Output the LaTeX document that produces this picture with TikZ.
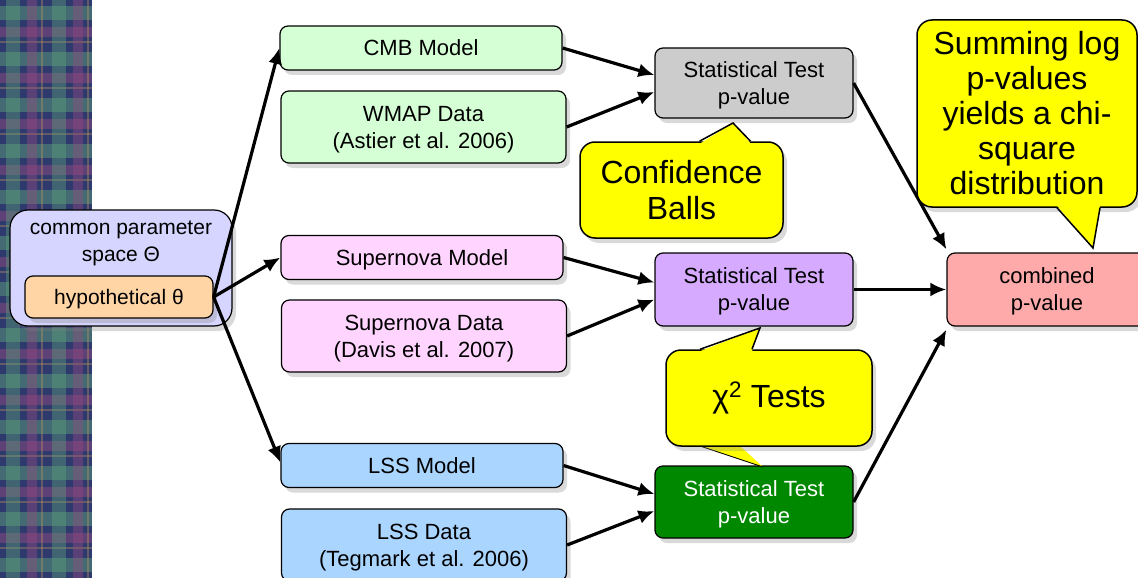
\documentclass[tikz,border=0pt]{standalone}
\usepackage{fontspec}
\setmainfont{Liberation Sans}
\usetikzlibrary{arrows.meta,shadows}

\definecolor{spacefill}{HTML}{D5D5FF}
\definecolor{hypofill}{HTML}{FFD5A5}
\definecolor{cmbfill}{HTML}{D5FFD5}
\definecolor{snfill}{HTML}{FFD5FF}
\definecolor{lssfill}{HTML}{AAD5FF}
\definecolor{graytest}{HTML}{CCCCCC}
\definecolor{purpletest}{HTML}{D5AAFF}
\definecolor{greentest}{HTML}{008800}
\definecolor{combfill}{HTML}{FFAAAA}
\definecolor{bubblefill}{HTML}{FFFF00}
\definecolor{plaidnavy}{HTML}{2E3A6E}
\definecolor{plaidgreen}{HTML}{5FA57A}
\definecolor{plaidpink}{HTML}{9A4A82}
\definecolor{plaidorange}{HTML}{C89A5A}

\tikzset{
  box/.style={rectangle, draw, line width=1.2pt, rounded corners=8pt, align=center, inner sep=0pt,
              font=\fontsize{22}{27}\selectfont, text depth=0pt,
              drop shadow={opacity=0.3, shadow xshift=4pt, shadow yshift=-5pt}},
  bubble/.style={rectangle, draw, line width=1.5pt, fill=bubblefill, rounded corners=15pt, align=center,
                 inner sep=0pt, font=\fontsize{32}{36}\selectfont,
                 drop shadow={opacity=0.3, shadow xshift=4pt, shadow yshift=-5pt}},
  arrow/.style={-{Latex[length=16pt,width=14pt]}, line width=3.2pt},
}

\begin{document}
\begin{tikzpicture}[x=1pt, y=-1pt,
  model/.style={box, minimum width=282pt, minimum height=44pt},
  data/.style={box, minimum width=285pt, minimum height=72pt},
  test/.style={box, minimum width=198pt, minimum height=72pt},
  pointer/.style={line width=1.5pt, line join=miter}
]
  \useasboundingbox (0,0) rectangle (1138,578);
  \clip (0,0) rectangle (1138,578);

  % plaid strip
  \fill[plaidnavy] (0,0) rectangle (92,578);
  \foreach \k in {0,...,12} {
    \fill[plaidgreen, opacity=0.45] (0,\k*46+6) rectangle (92,\k*46+20);
    \fill[plaidpink, opacity=0.45] (0,\k*46+27) rectangle (92,\k*46+37);
    \fill[plaidorange, opacity=0.35] (0,\k*46+41) rectangle (92,\k*46+43);
  }
  \foreach \k in {0,1} {
    \fill[plaidgreen, opacity=0.4] (\k*46+6,0) rectangle (\k*46+20,578);
    \fill[plaidpink, opacity=0.4] (\k*46+27,0) rectangle (\k*46+37,578);
    \fill[plaidorange, opacity=0.35] (\k*46+41,0) rectangle (\k*46+43,578);
  }

  % parameter space
  \node[box, fill=spacefill, rounded corners=18pt, minimum width=222pt, minimum height=116pt]
        (space) at (121,268) {};
  \node[anchor=north, align=center, inner sep=0pt, font=\fontsize{21}{27}\selectfont]
        (spacetext) at ([yshift=-11pt]space.north) {common parameter\\space Θ};
  \node[box, fill=hypofill, minimum width=188pt, minimum height=42pt, drop shadow={opacity=0},
        font=\fontsize{21}{26}\selectfont]
        (hypo) at (119,297) {hypothetical θ};

  % models and data
  \node[model, fill=cmbfill] (cmbmodel) at (421,48) {CMB Model};
  \node[data, fill=cmbfill] (cmbdata) at (423.5,127) {WMAP Data\\(Astier et al. 2006)};
  \node[model, fill=snfill] (snmodel) at (422,257.5) {Supernova Model};
  \node[data, fill=snfill] (sndata) at (424,336) {Supernova Data\\(Davis et al. 2007)};
  \node[model, fill=lssfill] (lssmodel) at (422,465.5) {LSS Model};
  \node[data, fill=lssfill] (lssdata) at (424,545) {LSS Data\\(Tegmark et al. 2006)};

  % tests
  \node[test, fill=graytest, minimum height=70pt] (cmbtest) at (754,83) {Statistical Test\\p-value};
  \node[test, fill=purpletest, minimum height=73pt] (sntest) at (754,289.5) {Statistical Test\\p-value};
  \node[test, fill=greentest, text=white] (lsstest) at (754,502) {Statistical Test\\p-value};
  \node[test, fill=combfill, minimum width=200pt, minimum height=73pt] (comb) at (1047,289.5) {combined\\p-value};

  % arrows
  \draw[arrow] (hypo.east) -- (cmbmodel.west);
  \draw[arrow] (hypo.east) -- (snmodel.west);
  \draw[arrow] (hypo.east) -- ([yshift=3pt]lssmodel.west);
  \draw[arrow] (cmbmodel.east) -- ([yshift=8pt]cmbtest.west);
  \draw[arrow] (cmbdata.east) -- ([yshift=-9pt]cmbtest.west);
  \draw[arrow] (snmodel.east) -- ([yshift=7pt]sntest.west);
  \draw[arrow] (sndata.east) -- ([yshift=-10pt]sntest.west);
  \draw[arrow] (lssmodel.east) -- ([yshift=8pt]lsstest.west);
  \draw[arrow] (lssdata.east) -- ([yshift=-9pt]lsstest.west);
  \draw[arrow] (cmbtest.east) -- ([yshift=3pt]comb.north west);
  \draw[arrow] (sntest.east) -- (comb.west);
  \draw[arrow] (lsstest.east) -- ([yshift=-3pt]comb.south west);

  % callouts
  \coordinate (conftip) at (733,123);
  \coordinate (chitip) at (760,328);
  \coordinate (chilow) at (763,467);
  \coordinate (sumtip) at (1093,248);

  \node[bubble, minimum width=203pt, minimum height=96pt] (conf) at (681.5,190) {Confidence\\Balls};
  \fill[bubblefill] ([xshift=19pt,yshift=-2pt]conf.north) -- (conftip) -- ([xshift=69pt,yshift=-2pt]conf.north) -- cycle;
  \draw[pointer] ([xshift=18pt]conf.north) -- (conftip) -- ([xshift=69pt]conf.north);

  \fill[bubblefill] ([xshift=-69pt]769,446) -- (chilow) -- ([xshift=-29pt]769,446) -- cycle;
  \draw[line width=0.8pt] ([xshift=-69pt]769,446) -- (chilow);
  \node[bubble, minimum width=206pt, minimum height=96pt] (chi) at (769,398) {χ\textsuperscript{2} Tests};
  \fill[bubblefill] ([xshift=-69pt,yshift=-2pt]chi.north) -- (chitip) -- ([xshift=-17pt,yshift=-2pt]chi.north) -- cycle;
  \draw[pointer] ([xshift=-69pt]chi.north) -- (chitip) -- ([xshift=-17pt]chi.north);

  \node[bubble, minimum width=220pt, minimum height=187pt, font=\fontsize{32}{35}\selectfont] (summing) at (1027,113.5)
        {Summing log\\p-values\\yields a chi-\\square\\distribution};
  \fill[bubblefill] ([xshift=30pt,yshift=2pt]summing.south) -- (sumtip) -- ([xshift=73pt,yshift=2pt]summing.south) -- cycle;
  \draw[pointer] ([xshift=30pt]summing.south) -- (sumtip) -- ([xshift=73pt]summing.south);
\end{tikzpicture}
\end{document}
